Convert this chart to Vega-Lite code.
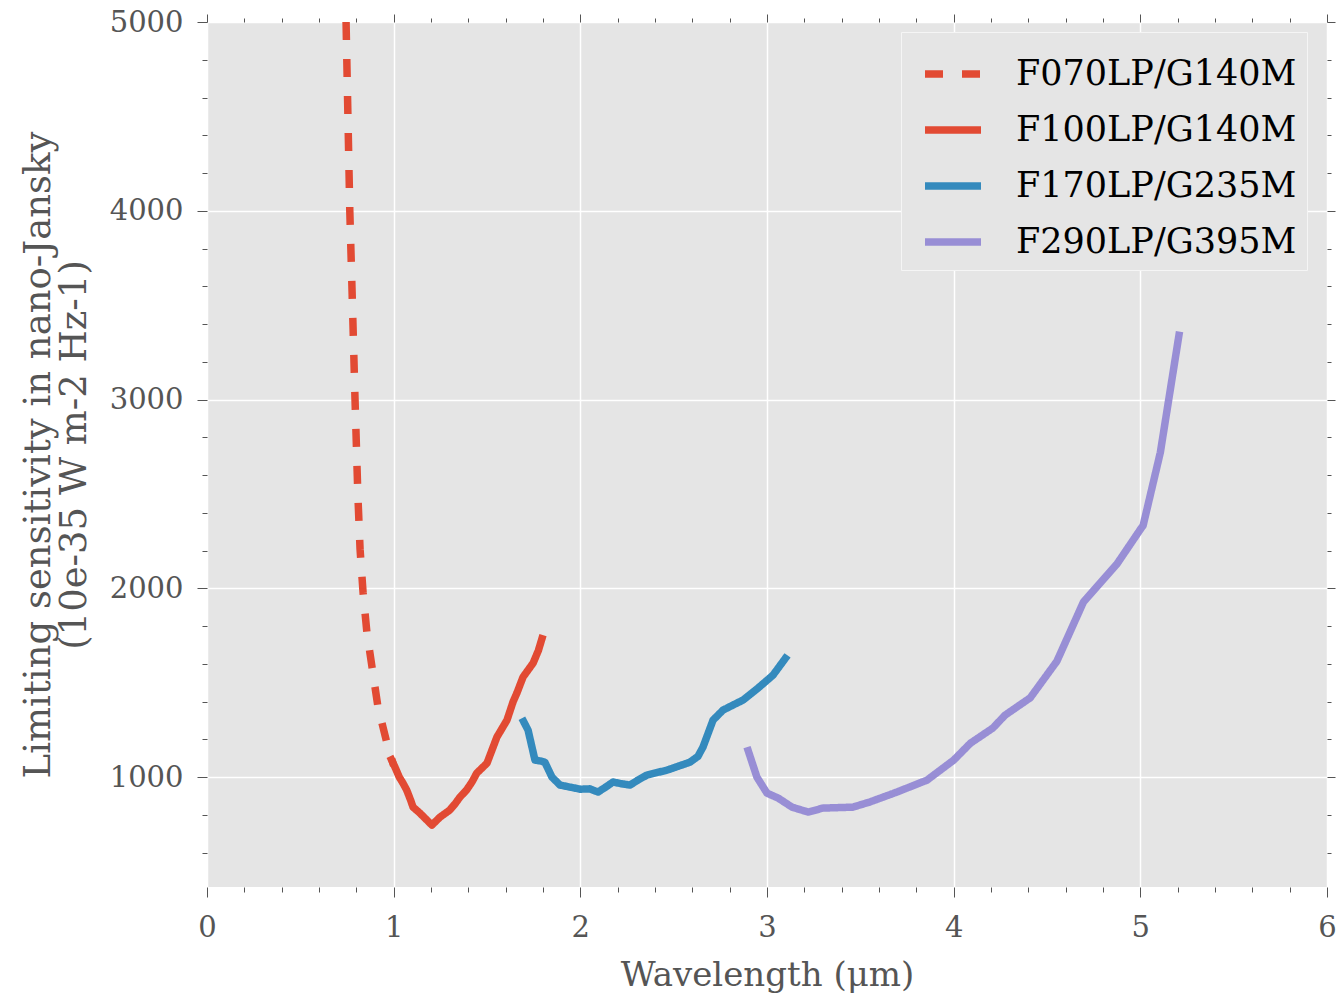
{
  "$schema": "https://vega.github.io/schema/vega-lite/v6.json",
  "width": 1120,
  "height": 865,
  "autosize": {"type": "none"},
  "padding": {"left": 207, "top": 22, "right": 9, "bottom": 110},
  "background": "white",
  "config": {
    "view": {"fill": "#E5E5E5", "stroke": null},
    "font": "DejaVu Serif"
  },
  "data": {
    "values": [
      {"s": "F070LP/G140M", "x": 0.745, "y": 5000},
      {"s": "F070LP/G140M", "x": 0.755, "y": 4500},
      {"s": "F070LP/G140M", "x": 0.765, "y": 4000},
      {"s": "F070LP/G140M", "x": 0.777, "y": 3580},
      {"s": "F070LP/G140M", "x": 0.793, "y": 3000},
      {"s": "F070LP/G140M", "x": 0.808, "y": 2500},
      {"s": "F070LP/G140M", "x": 0.82, "y": 2207},
      {"s": "F070LP/G140M", "x": 0.836, "y": 1979},
      {"s": "F070LP/G140M", "x": 0.857, "y": 1763},
      {"s": "F070LP/G140M", "x": 0.884, "y": 1583},
      {"s": "F070LP/G140M", "x": 0.916, "y": 1371},
      {"s": "F070LP/G140M", "x": 0.964, "y": 1180},
      {"s": "F070LP/G140M", "x": 1.0, "y": 1060},
      {"s": "F100LP/G140M", "x": 0.98, "y": 1110},
      {"s": "F100LP/G140M", "x": 1.007, "y": 1053},
      {"s": "F100LP/G140M", "x": 1.03, "y": 1000},
      {"s": "F100LP/G140M", "x": 1.05, "y": 968},
      {"s": "F100LP/G140M", "x": 1.07, "y": 931},
      {"s": "F100LP/G140M", "x": 1.09, "y": 880},
      {"s": "F100LP/G140M", "x": 1.104, "y": 841},
      {"s": "F100LP/G140M", "x": 1.141, "y": 809},
      {"s": "F100LP/G140M", "x": 1.17, "y": 780},
      {"s": "F100LP/G140M", "x": 1.205, "y": 746},
      {"s": "F100LP/G140M", "x": 1.248, "y": 788},
      {"s": "F100LP/G140M", "x": 1.3, "y": 825},
      {"s": "F100LP/G140M", "x": 1.33, "y": 860},
      {"s": "F100LP/G140M", "x": 1.355, "y": 894},
      {"s": "F100LP/G140M", "x": 1.39, "y": 931},
      {"s": "F100LP/G140M", "x": 1.42, "y": 975},
      {"s": "F100LP/G140M", "x": 1.445, "y": 1021},
      {"s": "F100LP/G140M", "x": 1.5, "y": 1074},
      {"s": "F100LP/G140M", "x": 1.553, "y": 1212},
      {"s": "F100LP/G140M", "x": 1.607, "y": 1302},
      {"s": "F100LP/G140M", "x": 1.64, "y": 1400},
      {"s": "F100LP/G140M", "x": 1.66, "y": 1445},
      {"s": "F100LP/G140M", "x": 1.693, "y": 1530},
      {"s": "F100LP/G140M", "x": 1.747, "y": 1604},
      {"s": "F100LP/G140M", "x": 1.775, "y": 1670},
      {"s": "F100LP/G140M", "x": 1.8, "y": 1752},
      {"s": "F170LP/G235M", "x": 1.687, "y": 1312},
      {"s": "F170LP/G235M", "x": 1.72, "y": 1249},
      {"s": "F170LP/G235M", "x": 1.757, "y": 1090},
      {"s": "F170LP/G235M", "x": 1.79, "y": 1085},
      {"s": "F170LP/G235M", "x": 1.81, "y": 1079},
      {"s": "F170LP/G235M", "x": 1.848, "y": 1000},
      {"s": "F170LP/G235M", "x": 1.891, "y": 958},
      {"s": "F170LP/G235M", "x": 1.945, "y": 947},
      {"s": "F170LP/G235M", "x": 2.0, "y": 936},
      {"s": "F170LP/G235M", "x": 2.05, "y": 938},
      {"s": "F170LP/G235M", "x": 2.095, "y": 921},
      {"s": "F170LP/G235M", "x": 2.14, "y": 950},
      {"s": "F170LP/G235M", "x": 2.175, "y": 974},
      {"s": "F170LP/G235M", "x": 2.22, "y": 965},
      {"s": "F170LP/G235M", "x": 2.266, "y": 958},
      {"s": "F170LP/G235M", "x": 2.31, "y": 985},
      {"s": "F170LP/G235M", "x": 2.357, "y": 1011},
      {"s": "F170LP/G235M", "x": 2.464, "y": 1037},
      {"s": "F170LP/G235M", "x": 2.587, "y": 1079},
      {"s": "F170LP/G235M", "x": 2.63, "y": 1110},
      {"s": "F170LP/G235M", "x": 2.657, "y": 1159},
      {"s": "F170LP/G235M", "x": 2.711, "y": 1302},
      {"s": "F170LP/G235M", "x": 2.764, "y": 1355},
      {"s": "F170LP/G235M", "x": 2.871, "y": 1408},
      {"s": "F170LP/G235M", "x": 2.95, "y": 1470},
      {"s": "F170LP/G235M", "x": 3.032, "y": 1540},
      {"s": "F170LP/G235M", "x": 3.11, "y": 1645},
      {"s": "F290LP/G395M", "x": 2.893, "y": 1159},
      {"s": "F290LP/G395M", "x": 2.946, "y": 1000},
      {"s": "F290LP/G395M", "x": 3.0, "y": 915},
      {"s": "F290LP/G395M", "x": 3.06, "y": 889},
      {"s": "F290LP/G395M", "x": 3.134, "y": 841},
      {"s": "F290LP/G395M", "x": 3.22, "y": 815},
      {"s": "F290LP/G395M", "x": 3.3, "y": 836},
      {"s": "F290LP/G395M", "x": 3.46, "y": 841},
      {"s": "F290LP/G395M", "x": 3.55, "y": 868},
      {"s": "F290LP/G395M", "x": 3.696, "y": 921},
      {"s": "F290LP/G395M", "x": 3.857, "y": 984},
      {"s": "F290LP/G395M", "x": 4.0, "y": 1090},
      {"s": "F290LP/G395M", "x": 4.09, "y": 1180},
      {"s": "F290LP/G395M", "x": 4.21, "y": 1260},
      {"s": "F290LP/G395M", "x": 4.275, "y": 1328},
      {"s": "F290LP/G395M", "x": 4.41, "y": 1420},
      {"s": "F290LP/G395M", "x": 4.553, "y": 1614},
      {"s": "F290LP/G395M", "x": 4.695, "y": 1927},
      {"s": "F290LP/G395M", "x": 4.874, "y": 2128},
      {"s": "F290LP/G395M", "x": 5.0, "y": 2312},
      {"s": "F290LP/G395M", "x": 5.015, "y": 2333},
      {"s": "F290LP/G395M", "x": 5.107, "y": 2719},
      {"s": "F290LP/G395M", "x": 5.21, "y": 3360}
    ]
  },
  "layer": [
    {
      "mark": {"type": "line", "strokeWidth": 7.5, "clip": true, "strokeJoin": "round", "strokeCap": "butt"},
      "encoding": {
        "x": {
          "field": "x", "type": "quantitative",
          "scale": {"domain": [0, 6], "nice": false, "zero": false},
          "axis": {
            "orient": "bottom",
            "values": [0,0.2,0.4,0.6,0.8,1,1.2,1.4,1.6,1.8,2,2.2,2.4,2.6,2.8,3,3.2,3.4,3.6,3.8,4,4.2,4.4,4.6,4.8,5,5.2,5.4,5.6,5.8,6],
            "labelExpr": "datum.value % 1 === 0 ? format(datum.value, 'd') : ''",
            "labelFlush": false,
            "labelOverlap": false,
            "labelFont": "DejaVu Serif",
            "labelFontSize": 29,
            "labelColor": "#555555",
            "labelPadding": 16,
            "domain": false,
            "grid": true,
            "gridColor": "white",
            "gridWidth": 1.5,
            "gridOpacity": {"condition": {"test": "datum.value % 1 === 0", "value": 1}, "value": 0},
            "ticks": true,
            "tickColor": "#555555",
            "tickWidth": 1,
            "tickSize": {"condition": {"test": "datum.value % 1 === 0", "value": 10}, "value": 5},
            "title": "Wavelength (μm)",
            "titleFont": "DejaVu Serif",
            "titleFontSize": 34,
            "titleFontWeight": "normal",
            "titleColor": "#555555",
            "titlePadding": 16
          }
        },
        "y": {
          "field": "y", "type": "quantitative",
          "scale": {"domain": [418, 5000], "nice": false, "zero": false},
          "axis": {
            "orient": "left",
            "values": [600,800,1000,1200,1400,1600,1800,2000,2200,2400,2600,2800,3000,3200,3400,3600,3800,4000,4200,4400,4600,4800,5000],
            "labelExpr": "datum.value % 1000 === 0 ? format(datum.value, 'd') : ''",
            "labelFlush": false,
            "labelOverlap": false,
            "labelFont": "DejaVu Serif",
            "labelFontSize": 29,
            "labelColor": "#555555",
            "labelPadding": 14,
            "domain": false,
            "grid": true,
            "gridColor": "white",
            "gridWidth": 1.5,
            "gridOpacity": {"condition": {"test": "datum.value % 1000 === 0", "value": 1}, "value": 0},
            "ticks": true,
            "tickColor": "#555555",
            "tickWidth": 1,
            "tickSize": {"condition": {"test": "datum.value % 1000 === 0", "value": 10}, "value": 5},
            "title": ["Limiting sensitivity in nano-Jansky", "(10e-35 W m-2 Hz-1)"],
            "titleFont": "DejaVu Serif",
            "titleFontSize": 37,
            "titleLineHeight": 36,
            "titleFontWeight": "normal",
            "titleColor": "#555555",
            "titlePadding": 16
          }
        },
        "color": {
          "field": "s", "type": "nominal",
          "scale": {
            "domain": ["F070LP/G140M", "F100LP/G140M", "F170LP/G235M", "F290LP/G395M"],
            "range": ["#E24A33", "#E24A33", "#348ABD", "#988ED5"]
          },
          "legend": {
            "orient": "none",
            "legendX": 694,
            "legendY": 10,
            "title": null,
            "symbolType": "stroke",
            "symbolSize": 3136,
            "symbolStrokeWidth": 7.5,
            "labelFont": "DejaVu Serif",
            "labelFontSize": 35,
            "labelColor": "black",
            "labelOffset": 31,
            "labelLimit": 500,
            "padding": 10,
            "symbolOffset": 10,
            "rowPadding": 6,
            "fillColor": "#E5E5E5",
            "strokeColor": "#F5F5F5"
          }
        },
        "strokeDash": {
          "field": "s", "type": "nominal",
          "scale": {
            "domain": ["F070LP/G140M", "F100LP/G140M", "F170LP/G235M", "F290LP/G395M"],
            "range": [[18, 19], [1, 0], [1, 0], [1, 0]]
          },
          "legend": {"title": null}
        }
      }
    },
    {
      "mark": {"type": "point", "opacity": 0, "clip": true},
      "encoding": {
        "x": {
          "field": "x", "type": "quantitative",
          "scale": {"domain": [0, 6], "nice": false, "zero": false},
          "axis": {
            "orient": "top",
            "values": [0,0.2,0.4,0.6,0.8,1,1.2,1.4,1.6,1.8,2,2.2,2.4,2.6,2.8,3,3.2,3.4,3.6,3.8,4,4.2,4.4,4.6,4.8,5,5.2,5.4,5.6,5.8,6],
            "labels": false,
            "domain": false,
            "grid": false,
            "ticks": true,
            "tickColor": "#555555",
            "tickWidth": 1,
            "tickSize": {"condition": {"test": "datum.value % 1 === 0", "value": 8}, "value": 4},
            "title": null
          }
        },
        "y": {
          "field": "y", "type": "quantitative",
          "scale": {"domain": [418, 5000], "nice": false, "zero": false},
          "axis": {
            "orient": "right",
            "values": [600,800,1000,1200,1400,1600,1800,2000,2200,2400,2600,2800,3000,3200,3400,3600,3800,4000,4200,4400,4600,4800,5000],
            "labels": false,
            "domain": false,
            "grid": false,
            "ticks": true,
            "tickColor": "#555555",
            "tickWidth": 1,
            "tickSize": {"condition": {"test": "datum.value % 1000 === 0", "value": 8}, "value": 4},
            "title": null
          }
        }
      }
    }
  ],
  "resolve": {"axis": {"x": "independent", "y": "independent"}}
}
